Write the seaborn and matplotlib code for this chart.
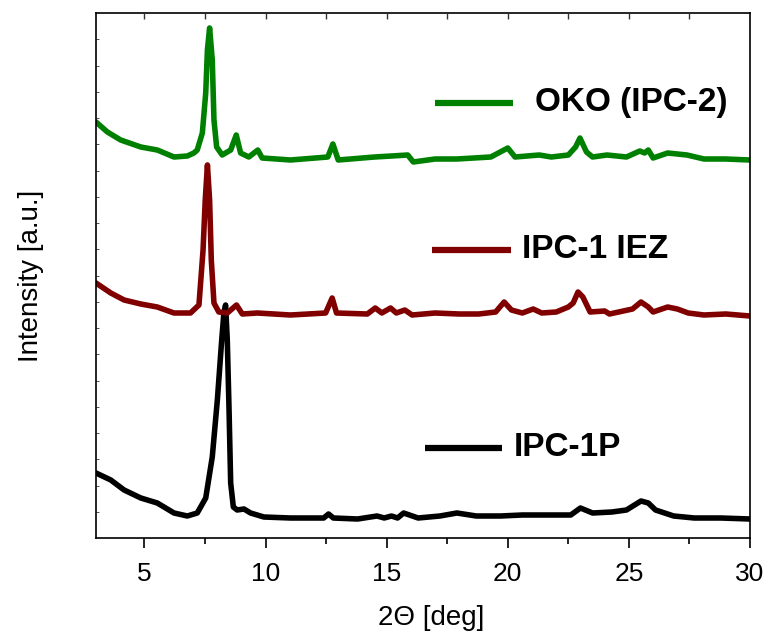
import matplotlib
matplotlib.use("Agg")
import matplotlib.pyplot as plt
import seaborn as sns
import pandas as pd
import numpy as np

# ---- data (2-theta in deg, intensity in arbitrary units incl. vertical offsets) ----
x_p1 = [3.0, 3.61, 4.16, 4.85, 5.53, 6.22, 6.77, 7.18, 7.53, 7.8, 8.01, 8.19, 8.28, 8.35,
        8.42, 8.49, 8.56, 8.67, 8.83, 9.11, 9.38, 9.93, 11.03, 12.4, 12.6, 12.8, 13.8,
        14.6, 14.9, 15.2, 15.45, 15.7, 16.3, 17.2, 17.9, 18.7, 19.7, 20.6, 21.5, 22.6,
        23.0, 23.5, 24.3, 24.9, 25.5, 25.8, 26.1, 26.85, 27.7, 28.8, 30.0]
y_p1 = [65, 58, 48, 40, 35, 25, 22, 25, 40, 81, 138, 198, 225, 233,
        198, 131, 55, 31, 28, 29, 25, 21, 20, 20, 24, 20, 19,
        22, 20, 22, 20, 25, 20, 22, 25, 22, 22, 23, 23, 23,
        30, 25, 26, 28, 37, 35, 28, 22, 20, 20, 19]

x_iez = [3.0, 3.61, 4.16, 4.85, 5.53, 6.22, 6.9, 7.25, 7.42, 7.51, 7.6, 7.69, 7.76, 7.87,
         8.07, 8.42, 8.8, 9.04, 9.66, 11.03, 12.48, 12.75, 12.93, 14.2, 14.53, 14.8,
         15.16, 15.4, 15.75, 16.05, 17.0, 18.0, 18.8, 19.5, 19.85, 20.15, 20.6, 21.05,
         21.4, 22.0, 22.5, 22.7, 22.9, 23.1, 23.4, 24.0, 24.2, 25.15, 25.5, 25.8, 26.0,
         26.6, 27.0, 27.45, 28.1, 29.0, 30.0]
y_iez = [255, 245, 238, 234, 231, 225, 225, 233, 288, 338, 373, 338, 278, 235,
         226, 225, 233, 224, 225, 223, 225, 240, 225, 224, 230, 225,
         230, 225, 228, 223, 225, 224, 224, 226, 236, 228, 225, 229,
         225, 226, 231, 235, 246, 241, 226, 227, 224, 229, 236, 231, 226,
         231, 229, 225, 223, 224, 222]

x_oko = [3.0, 3.47, 4.02, 4.85, 5.53, 6.22, 6.77, 7.04, 7.18, 7.39, 7.53, 7.6, 7.69, 7.8,
         7.87, 7.98, 8.21, 8.56, 8.79, 8.97, 9.31, 9.68, 9.86, 11.03, 12.57, 12.78, 13.0,
         14.0, 14.5, 15.2, 15.87, 16.1, 17.0, 17.9, 19.3, 20.0, 20.3, 21.3, 21.8, 22.5,
         22.8, 22.98, 23.25, 23.5, 24.1, 24.9, 25.45, 25.65, 25.8, 26.0, 26.6, 27.4,
         28.1, 29.0, 30.0]
y_oko = [416, 406, 398, 391, 388, 381, 382, 385, 388, 405, 445, 488, 510, 478,
         418, 391, 383, 388, 403, 385, 381, 388, 380, 378, 381, 394, 378,
         380, 381, 382, 383, 376, 379, 379, 381, 390, 381, 383, 381, 383,
         391, 400, 386, 381, 383, 381, 387, 385, 388, 380, 385, 383,
         379, 379, 378]

names = ["IPC-1P", "IPC-1 IEZ", "OKO (IPC-2)"]
colors = ["#000000", "#800000", "#008000"]
x_ticks = [5, 10, 15, 20, 25, 30]

frames = []
for n, xs, ys in zip(names, [x_p1, x_iez, x_oko], [y_p1, y_iez, y_oko]):
    frames.append(pd.DataFrame({"two_theta": xs, "intensity": ys, "sample": n}))
df = pd.concat(frames, ignore_index=True)

sns.set_theme(style="ticks")
plt.rcParams["font.family"] = ["Liberation Sans", "DejaVu Sans"]
plt.rcParams["text.color"] = "black"
plt.rcParams["axes.labelcolor"] = "black"
plt.rcParams["xtick.color"] = "black"
plt.rcParams["ytick.color"] = "black"

fig = plt.figure(figsize=(7.68, 6.33), dpi=100)
ax = fig.add_axes([96 / 768, (633 - 538) / 633, 654 / 768, 525 / 633])

sns.lineplot(data=df, x="two_theta", y="intensity", hue="sample",
             palette=dict(zip(names, colors)), sort=False, estimator=None,
             linewidth=4.0, ax=ax, legend=False)
for ln in ax.get_lines():
    ln.set_solid_joinstyle("round")
    ln.set_solid_capstyle("round")

ax.set_xlim(3, 30)
ax.set_ylim(0, 525)
ax.set_xticks(x_ticks)
ax.set_xticks(np.arange(7.5, 30, 5), minor=True)
ax.set_yticks(np.arange(26.25, 525, 26.25))
ax.tick_params(axis="x", which="major", direction="out", length=7, width=1.2,
               labelsize=19, pad=10, bottom=True, top=False, labelcolor="black")
ax.tick_params(axis="x", which="minor", direction="out", length=4, width=1.2,
               bottom=True, top=False)
for s in ax.spines.values():
    s.set_color("black")
    s.set_linewidth(1.2)

top = ax.twiny()
top.set_xlim(ax.get_xlim())
top.set_xticks(np.arange(5, 30, 2.5))
top.tick_params(axis="x", direction="in", length=4, width=1.0, top=True,
                bottom=False, labeltop=False, labelbottom=False, color="#333333")
top.tick_params(axis="y", left=False, right=False, labelleft=False, labelright=False)
for s in top.spines.values():
    s.set_visible(False)

# faint inward ticks on the left spine
ax.tick_params(axis="y", which="major", direction="in", length=2.5, width=0.7,
               color="#555555", left=True, right=False, labelleft=False)

ax.set_xlabel("2\u0398 [deg]", fontsize=20)
ax.set_ylabel("Intensity [a.u.]", fontsize=20)
ax.xaxis.set_label_coords(0.512, -0.128)
ax.yaxis.set_label_coords(-0.08, 0.5)

# in-plot labels
legend_pos = {"OKO (IPC-2)": (0.518, 0.637, 0.671, 0.829),
              "IPC-1 IEZ": (0.514, 0.635, 0.652, 0.549),
              "IPC-1P": (0.503, 0.621, 0.638, 0.172)}
for n, c in zip(names, colors):
    x0, x1, xt, yy = legend_pos[n]
    ax.plot([x0, x1], [yy, yy], transform=ax.transAxes, color=c, lw=4.5,
            solid_capstyle="butt")
    ax.text(xt, yy, n, transform=ax.transAxes, fontsize=24, fontweight="bold",
            va="center", ha="left", color="black")

fig.savefig("out.png", dpi=100)
